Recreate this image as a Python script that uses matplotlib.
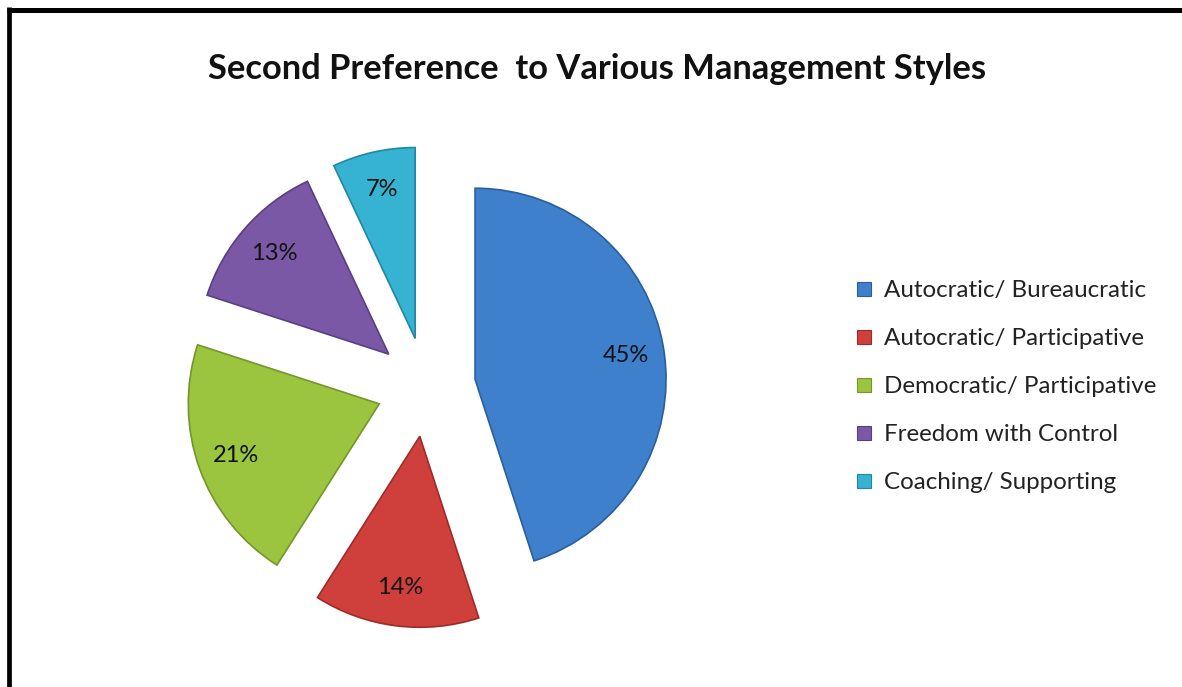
import matplotlib
matplotlib.use('Agg')
import matplotlib.pyplot as plt
from matplotlib.lines import Line2D

plt.rcParams['font.family'] = ['Lato', 'DejaVu Sans']

# data
styles = ['Autocratic/ Bureaucratic', 'Autocratic/ Participative',
          'Democratic/ Participative', 'Freedom with Control',
          'Coaching/ Supporting']
shares = [45, 14, 21, 13, 7]
colors = ['#3f80cc', '#cf403c', '#9bc43f', '#7a58a6', '#36b2d2']
edges = ['#2c5e9c', '#9c2c29', '#74962a', '#5a3f80', '#2386a2']

W, H = 1182, 687
fig = plt.figure(figsize=(W / 100, H / 100), dpi=100)

# pie centre and radius in pixels
cx, cy, r = 426, 387, 191
ax = fig.add_axes([0, 0, 1, 1])
wedges, texts = ax.pie(shares, colors=colors, startangle=90, counterclock=False,
                       explode=[0.26] * len(shares),
                       labels=[f'{s}%' for s in shares], labeldistance=0.8,
                       textprops={'fontsize': 17, 'color': '#111111',
                                  'ha': 'center', 'va': 'center'},
                       wedgeprops={'linewidth': 1.2})
for w, e in zip(wedges, edges):
    w.set_edgecolor(e)
ax.set_aspect('auto')
ax.set_xlim(-cx / r, (W - cx) / r)
ax.set_ylim(-(H - cy) / r, cy / r)
ax.axis('off')

fig.text(597 / W, 1 - 69 / H, 'Second Preference  to Various Management Styles',
         ha='center', va='center', fontsize=24.8, fontweight='bold', color='#111111')

handles = [Line2D([], [], marker='s', linestyle='none', markersize=10,
                  markerfacecolor=c, markeredgecolor=e, markeredgewidth=0.8)
           for c, e in zip(colors, edges)]
fig.legend(handles, styles, loc='upper left', bbox_to_anchor=(856 / W, 1 - 280 / H),
           frameon=False, fontsize=17.4, labelspacing=1.12, handlelength=0.7,
           handletextpad=0.45, borderaxespad=0, borderpad=0, labelcolor='#222222')

# border at top and left
fig.add_artist(Line2D([7 / W, 1], [1 - 9.5 / H, 1 - 9.5 / H], color='black', lw=3.6,
                      solid_capstyle='butt'))
fig.add_artist(Line2D([9 / W, 9 / W], [1 - 7 / H, 0], color='black', lw=3.4,
                      solid_capstyle='butt'))

fig.savefig('out.png', dpi=100)
